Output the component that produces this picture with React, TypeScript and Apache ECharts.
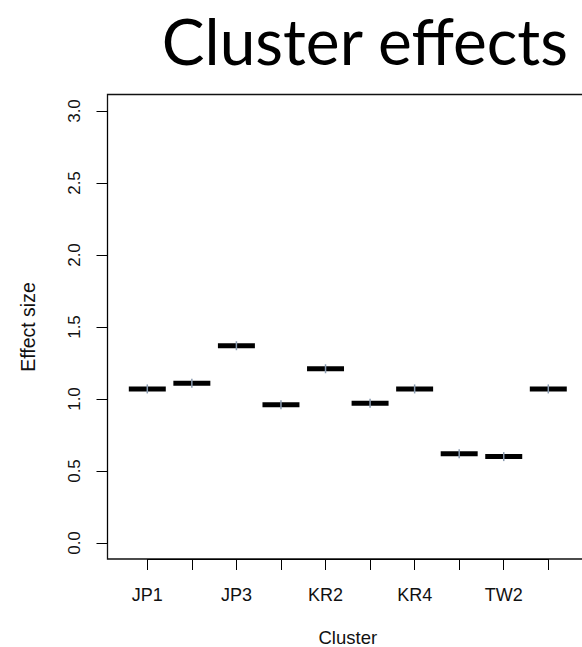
import React, { useEffect, useRef } from "react";
import * as echarts from "echarts";

// Clusters along the x axis and the estimated effect size for each
const clusters = ["JP1", "JP2", "JP3", "KR1", "KR2", "KR3", "KR4", "TW1", "TW2", "TW3"];
const effectSizes = [1.07, 1.11, 1.37, 0.96, 1.21, 0.97, 1.07, 0.62, 0.6, 1.07];
const yTicks = [0, 0.5, 1, 1.5, 2, 2.5, 3];

const W = 582;
const H = 647;

export default function App() {
  const ref = useRef<HTMLDivElement>(null);

  useEffect(() => {
    if (!ref.current) return;
    const chart = echarts.init(ref.current, null, { renderer: "svg" });
    const axisFont = { fontFamily: "Liberation Sans", fontSize: 17, color: "#111" };

    chart.setOption({
      animation: false,
      backgroundColor: "#ffffff",
      grid: {
        left: 147.3,
        right: W - 548.3,
        top: 111,
        bottom: H - 543,
        outerBoundsMode: "none",
        containLabel: false,
      },
      xAxis: {
        type: "category",
        data: clusters,
        boundaryGap: false,
        offset: 16,
        name: "Cluster",
        nameLocation: "middle",
        nameGap: 71,
        nameTextStyle: { ...axisFont, fontSize: 18.5, lineHeight: 15 },
        axisLine: { show: true, onZero: false, lineStyle: { color: "#000", width: 1 } },
        axisTick: { show: true, inside: false, length: 11, interval: 0, lineStyle: { color: "#000" } },
        axisLabel: { ...axisFont, fontSize: 18, interval: 1, margin: 27 },
        splitLine: { show: false },
      },
      yAxis: {
        type: "value",
        min: yTicks[0],
        max: yTicks[yTicks.length - 1],
        interval: 0.5,
        offset: 39.8,
        name: "Effect size",
        nameLocation: "middle",
        nameGap: 70,
        nameRotate: 90,
        nameTextStyle: { ...axisFont, fontSize: 19.5 },
        axisLine: { show: true, onZero: false, lineStyle: { color: "#000", width: 1 } },
        axisTick: { show: true, inside: false, length: 11, lineStyle: { color: "#000" } },
        axisLabel: {
          ...axisFont,
          rotate: 90,
          margin: 25,
          formatter: (v: number) => v.toFixed(1),
        },
        splitLine: { show: false },
      },
      graphic: [
        {
          type: "rect",
          shape: { x: 107.5, y: 94.5, width: 481, height: 464.5 },
          style: { fill: "none", stroke: "#111", lineWidth: 1.3 },
          silent: true,
        },
        {
          type: "text",
          x: 568,
          y: 8,
          style: {
            text: "Cluster effects",
            fontFamily: "Lato",
            fontSize: 64,
            fill: "#000",
            align: "right",
            verticalAlign: "top",
          },
          silent: true,
        },
      ],
      series: [
        {
          type: "custom",
          data: clusters.map((c, i) => [c, effectSizes[i]]),
          renderItem: (params: any, api: any) => {
            const pt = api.coord([api.value(0), api.value(1)]);
            const bw = api.size([1, 0])[0] * 0.83;
            return {
              type: "group",
              children: [
                {
                  type: "rect",
                  shape: { x: pt[0] - bw / 2, y: pt[1] - 2.5, width: bw, height: 5 },
                  style: { fill: "#000" },
                },
                {
                  type: "line",
                  shape: { x1: pt[0], y1: pt[1] - 4.5, x2: pt[0], y2: pt[1] + 4.5 },
                  style: { stroke: "#8a9bb0", lineWidth: 1.5 },
                },
              ],
            };
          },
        },
      ],
    });

    return () => chart.dispose();
  }, []);

  return (
    <div
      ref={ref}
      style={{ position: "fixed", left: 0, top: 0, width: W, height: H, background: "#fff" }}
    />
  );
}
